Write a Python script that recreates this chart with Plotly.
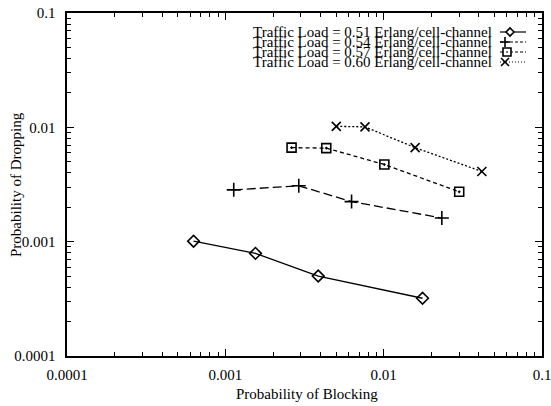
import plotly.graph_objects as go

# ---- data ----
blocking_051 = [0.00063, 0.00155, 0.00386, 0.0176]
dropping_051 = [0.00101, 0.00079, 0.00050, 0.00032]

blocking_054 = [0.00113, 0.00291, 0.00627, 0.0233]
dropping_054 = [0.00284, 0.00308, 0.00224, 0.00161]

blocking_057 = [0.00262, 0.00434, 0.0101, 0.0300]
dropping_057 = [0.00664, 0.00658, 0.00473, 0.00273]

blocking_060 = [0.00502, 0.00762, 0.0158, 0.0417]
dropping_060 = [0.0102, 0.0101, 0.00664, 0.00411]

series_names = [
    "Traffic Load = 0.51 Erlang/cell-channel",
    "Traffic Load = 0.54 Erlang/cell-channel",
    "Traffic Load = 0.57 Erlang/cell-channel",
    "Traffic Load = 0.60 Erlang/cell-channel",
]
tick_values = [0.0001, 0.001, 0.01, 0.1]
tick_labels = ["0.0001", "0.001", "0.01", "0.1"]
minor_tick_values = [k * d for d in (0.0001, 0.001, 0.01) for k in range(2, 10)]

FONT = "Liberation Serif"
W, H = 551, 406
L, R, T, B = 67, 9, 13, 50
PW, PH = W - L - R, H - T - B

styles = [
    dict(symbol="diamond-open", dash="solid", size=9),
    dict(symbol="cross-thin-open", dash="9px,4px", size=10),
    dict(symbol="square-open-dot", dash="4px,3px", size=9),
    dict(symbol="x-thin-open", dash="2px,2px", size=9),
]
xs = [blocking_051, blocking_054, blocking_057, blocking_060]
ys = [dropping_051, dropping_054, dropping_057, dropping_060]

fig = go.Figure()
for name, x, y, st in zip(series_names, xs, ys, styles):
    fig.add_trace(go.Scatter(
        x=x, y=y, name=name, mode="lines+markers",
        line=dict(color="black", width=1.3, dash=st["dash"]),
        marker=dict(symbol=st["symbol"], size=st["size"], color="black",
                    line=dict(color="black", width=1.6)),
        showlegend=False,
    ))

axis_common = dict(
    type="log", showgrid=False, zeroline=False, automargin=False,
    showline=True, linecolor="black", linewidth=1.6, mirror="allticks",
    ticks="inside", ticklen=7, tickwidth=1.1, tickcolor="black",
    tickmode="array", tickvals=tick_values, ticktext=tick_labels,
    tickfont=dict(family=FONT, size=15, color="black"),
    ticklabeloverflow="allow",
    minor=dict(tickmode="array", tickvals=minor_tick_values, ticks="inside",
               ticklen=4, tickwidth=1, tickcolor="black", showgrid=False),
)
fig.update_xaxes(range=[-4, -1], ticklabelstandoff=4, **axis_common)
fig.update_yaxes(range=[-4, -1], ticklabelstandoff=7, **axis_common)

annotations = [
    dict(text="Probability of Blocking", xref="paper", yref="paper",
         x=(307 - L) / PW, y=-(394 - (T + PH)) / PH, xanchor="center", yanchor="middle",
         showarrow=False, font=dict(family=FONT, size=15, color="black")),
    dict(text="Probability of Dropping", xref="paper", yref="paper",
         x=(16 - L) / PW, y=1 - (185 - T) / PH, xanchor="center", yanchor="middle",
         textangle=-90, showarrow=False, font=dict(family=FONT, size=15, color="black")),
]


def px_path(cx, cy, segments):
    """Paper-coordinate SVG path from pixel offsets around pixel (cx, cy)."""
    out = []
    for cmd, dx, dy in segments:
        if cmd == "Z":
            out.append("Z")
            continue
        xp = (cx + dx - L) / PW
        yp = 1 - (cy + dy - T) / PH
        out.append(f"{cmd}{xp:.5f},{yp:.5f}")
    return " ".join(out)


glyphs = [
    [("M", -4, 0), ("L", 0, 4), ("L", 4, 0), ("L", 0, -4), ("Z", 0, 0)],
    [("M", -5, 0), ("L", 5, 0), ("M", 0, -5), ("L", 0, 5)],
    [("M", -4, -4), ("L", 4, -4), ("L", 4, 4), ("L", -4, 4), ("Z", 0, 0),
     ("M", -0.7, 0), ("L", 0.7, 0)],
    [("M", -4, -4), ("L", 4, 4), ("M", -4, 4), ("L", 4, -4)],
]
leg_dash = ["solid", "3px,2px", "3px,2px", "1px,2px"]
glyph_x = [510, 505, 507, 505]
shapes = []
for i, name in enumerate(series_names):
    py = 32 + 10 * i
    yp = 1 - (py - T) / PH
    annotations.append(dict(
        text=name, xref="paper", yref="paper", x=(494 - L) / PW, y=yp,
        xanchor="right", yanchor="middle", showarrow=False,
        font=dict(family=FONT, size=15, color="black")))
    shapes.append(dict(type="line", xref="paper", yref="paper",
                       x0=(500 - L) / PW, x1=(526 - L) / PW, y0=yp, y1=yp,
                       line=dict(color="black", width=1.2, dash=leg_dash[i])))
    shapes.append(dict(type="path", xref="paper", yref="paper",
                       path=px_path(glyph_x[i], py, glyphs[i]),
                       fillcolor="white" if i in (0, 2) else None,
                       line=dict(color="black", width=1.6)))

fig.update_layout(
    width=W, height=H,
    margin=dict(l=L, r=R, t=T, b=B, autoexpand=False),
    paper_bgcolor="white", plot_bgcolor="white",
    annotations=annotations, shapes=shapes,
    font=dict(family=FONT, color="black"),
)

fig.write_html("out.html", config={"displayModeBar": False, "staticPlot": True},
               post_script="document.body.style.margin='0px';")
